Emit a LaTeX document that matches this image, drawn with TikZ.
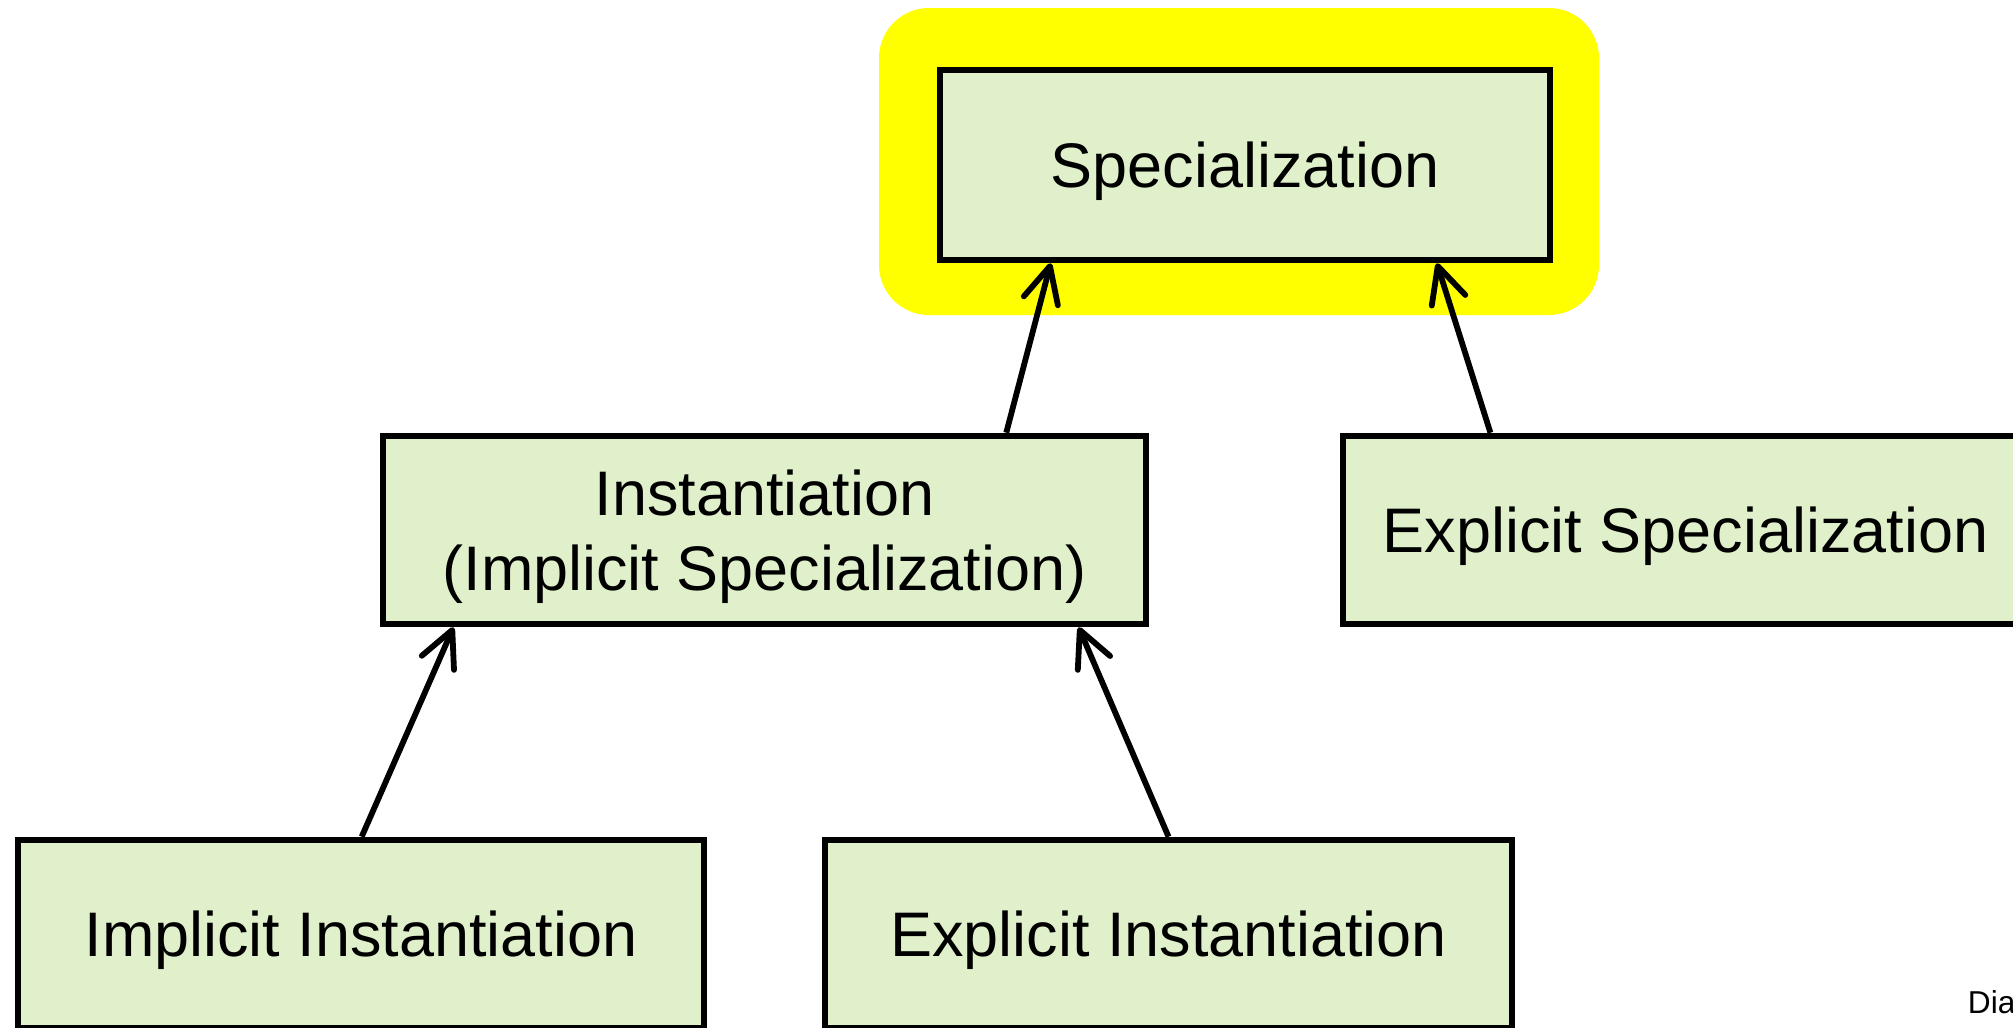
\documentclass[tikz,border=0pt]{standalone}
\usepackage{fontspec}
\setmainfont{Liberation Sans}
\usetikzlibrary{arrows.meta,calc}
\definecolor{boxgreen}{HTML}{DFF0CA}
\definecolor{hilite}{RGB}{255,255,0}

\begin{document}
\begin{tikzpicture}[x={(0.01cm,0)}, y={(0,-0.01cm)},
-{Straight Barb[length=10.2pt,width=10pt,round]}, line width=0.058cm,
block/.style ={line width=0.065cm, rectangle, draw, fill=boxgreen, align=center,
  font=\fontsize{17.9}{21.3}\selectfont, text depth=0pt, minimum height=1.88cm}]

\useasboundingbox (0,0) rectangle (2013,1027);
\clip (0,0) rectangle (2013,1027);

% highlight
\fill[hilite, rounded corners=0.5cm] (879,8) rectangle (1599,315);

\node[block, minimum width=6.1cm, minimum height=1.9cm] (Spec) at (1245,165) {Specialization};
\node[block, minimum width=7.63cm] (Inst) at (764.5,530) {Instantiation\\(Implicit Specialization)};
\node[block, minimum width=6.85cm] (ExplSpec) at (1685.5,530) {Explicit Specialization};
\node[block, minimum width=6.86cm] (ImplInst) at (361,934) {Implicit Instantiation};
\node[block, minimum width=6.87cm] (ExplInst) at (1168.5,934) {Explicit Instantiation};

\draw ($(Inst.north west)!0.814!(Inst.north east)$) -- ($(Spec.south west)!0.185!(Spec.south east)$);
\draw ($(ExplSpec.north west)!0.218!(ExplSpec.north east)$) -- ($(Spec.south west)!0.811!(Spec.south east)$);
\draw ($(ImplInst.north west)!0.501!(ImplInst.north east)$) -- ($(Inst.south west)!0.096!(Inst.south east)$);
\draw ($(ExplInst.north west)!0.5!(ExplInst.north east)$) -- ($(Inst.south west)!0.908!(Inst.south east)$);

\node[anchor=base west, inner sep=0, font=\fontsize{9}{10}\selectfont] (Note) at (1965,1013) {Dia};

\end{tikzpicture}
\end{document}
